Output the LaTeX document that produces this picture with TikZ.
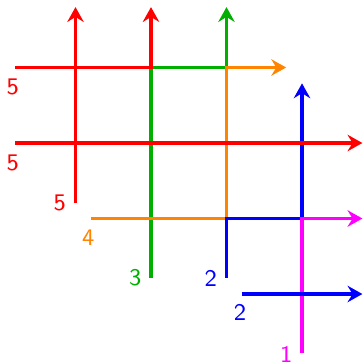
\documentclass[tikz,border=0pt]{standalone}
\usetikzlibrary{arrows.meta}
\definecolor{pred}{RGB}{255,0,0}
\definecolor{pgreen}{RGB}{0,175,0}
\definecolor{porange}{RGB}{255,132,0}
\definecolor{pblue}{RGB}{0,0,255}
\definecolor{pmag}{RGB}{255,0,255}
\tikzset{
  >={Stealth[length=5.6pt,width=6.2pt,inset=1.9pt]},
  pth/.style={->, draw=#1, line width=1.5pt, line join=miter},
  tag/.style={font=\sffamily\small, text=#1, inner sep=1pt},
  hlbl/.style={tag=#1},
  vlbl/.style={tag=#1},
}
\begin{document}
\begin{tikzpicture}
  \useasboundingbox (0,-0.927) rectangle (4.808,3.894);
  % crossings of the grid
  \foreach \i in {1,...,4}{
    \foreach \j in {0,...,3}{\coordinate (p\i\j) at (\i,\j);}}
  % free ends of the paths
  \coordinate (s1) at (0.2,3);   \coordinate (e1) at (2,3.8);
  \coordinate (s2) at (0.2,2);   \coordinate (e2) at (4.8,2);
  \coordinate (s3) at (1,1.2);   \coordinate (e3) at (1,3.8);
  \coordinate (s4) at (2,0.21);  \coordinate (e4) at (3,3.8);
  \coordinate (s5) at (1.2,1);   \coordinate (e5) at (3.79,3);
  \coordinate (s6) at (3,0.21);  \coordinate (e6) at (4,2.79);
  \coordinate (s7) at (3.2,0);   \coordinate (e7) at (4.8,0);
  \coordinate (s8) at (4,-0.78); \coordinate (e8) at (4.8,1);

  % ---------------- paths ----------------
  \draw[pth=pgreen] (s4) -- (p23) -- (p33) -- (e4);
  \draw[pth=porange] (s5) -- (p31) -- (p33) -- (e5);
  \draw[pth=pblue] (s6) -- (p31) -- (p41) -- (e6);
  \draw[pth=pmag] (s8) -- (p41) -- (e8);
  \draw[pth=pblue] (s7) -- (e7);
  \draw[pth=pred] (s1) -- (p23) -- (e1);
  \draw[pth=pred] (s2) -- (e2);
  \draw[pth=pred] (s3) -- (e3);

  % ---------------- labels ----------------
  \node[hlbl=pred] (l1) at ([shift={(-0.03,-0.26)}]s1) {5};
  \node[hlbl=pred] (l2) at ([shift={(-0.03,-0.27)}]s2) {5};
  \node[vlbl=pred] (l3) at ([shift={(-0.21,0)}]s3) {5};
  \node[vlbl=pgreen] (l4) at ([shift={(-0.21,0)}]s4) {3};
  \node[hlbl=porange] (l5) at ([shift={(-0.03,-0.25)}]s5) {4};
  \node[vlbl=pblue] (l6) at ([shift={(-0.21,0)}]s6) {2};
  \node[hlbl=pblue] (l7) at ([shift={(-0.02,-0.25)}]s7) {2};
  \node[vlbl=pmag] (l8) at ([shift={(-0.21,-0.02)}]s8) {1};
\end{tikzpicture}
\end{document}
